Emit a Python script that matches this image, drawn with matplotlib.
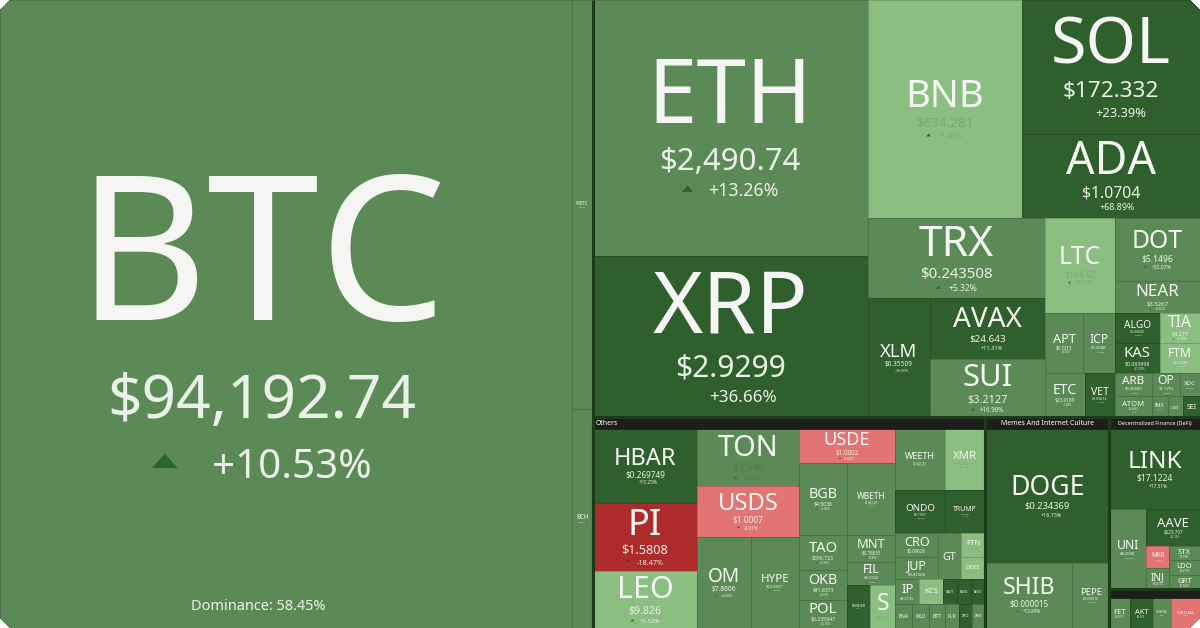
import matplotlib
matplotlib.use("Agg")
import numpy as np
import matplotlib.pyplot as plt
from matplotlib.patches import Rectangle, Polygon
from matplotlib.colors import to_rgb

plt.rcParams['font.family'] = ['Noto Sans', 'DejaVu Sans']

# ---------------- data ----------------
# relative market-cap weights (estimated from tile areas)
symbols = ["BTC", "WBTC", "BCH",
           "ETH", "XRP", "BNB", "SOL", "ADA", "TRX", "XLM", "AVAX", "SUI",
           "LTC", "APT", "ICP", "ETC", "VET", "DOT", "NEAR", "ALGO", "KAS",
           "TIA", "FTM", "ARB", "OP", "XDC", "ATOM", "IMX", "QNT", "SEI",
           "HBAR", "PI", "LEO", "TON", "USDS", "OM", "HYPE", "USDE", "BGB",
           "WBETH", "TAO", "OKB", "POL", "MNT", "FIL", "RENDER", "S",
           "WEETH", "XMR", "ONDO", "TRUMP", "CRO", "JUP", "GT", "FTN", "DEXE",
           "IP", "KCS", "XAUT", "PAXG", "NEXO", "ENA", "WLD", "BTT", "FLR",
           "ZRO", "SAND",
           "DOGE", "SHIB", "PEPE",
           "LINK", "UNI", "AAVE", "MKR", "INJ", "STX", "LDO", "GRT",
           "FET", "AKT", "THETA", "VIRTUAL"]
weights = [359.2, 8.6, 4.6,
           70.4, 44.3, 33.6, 23.9, 15.0, 14.2, 7.4, 7.0, 6.7,
           6.65, 2.28, 1.92, 1.76, 1.32, 5.36, 2.72, 1.35, 1.35,
           1.2, 1.2, 0.85, 0.64, 0.46, 0.78, 0.34, 0.32, 0.36,
           7.77, 7.14, 5.99, 5.81, 5.2, 4.91, 4.37, 3.3, 3.53,
           3.46, 1.72, 1.47, 1.37, 1.30, 1.10, 0.99, 1.08,
           3.05, 2.44, 2.15, 1.72, 1.03, 0.99, 1.08, 0.58, 0.55,
           0.6, 0.58, 0.35, 0.35, 0.35, 0.41, 0.41, 0.37, 0.35,
           0.3, 0.32,
           16.75, 5.72, 2.41,
           7.3, 2.99, 1.98, 0.51, 0.48, 0.45, 0.45, 0.45,
           0.62, 0.68, 0.56, 0.86]
prices = ["$94,192.74", "$94,174.3", "$358.21",
          "$2,490.74", "$2.9299", "$634.281", "$172.332", "$1.0704", "$0.243508",
          "$0.35509", "$24.643", "$3.2127",
          "$104.52", "$6.7313", "$7.3098", "$23.0189", "$0.03612", "$5.1496",
          "$3.5267", "$0.29625", "$0.093998",
          "$4.277", "$0.7335", "$0.45589", "$1.1752", "$0.0934", "$6.4461",
          "$0.9571", "", "",
          "$0.269749", "$1.5808", "$9.826", "$3.546", "$1.0007", "$7.8606",
          "$20.8097", "$1.0002", "$4.5038",
          "$2,647.29", "$356.723", "$41.8373", "$0.235947", "$0.78635", "$3.3742",
          "$4.1336", "$0.5521",
          "$2,621.81", "$229.597", "$1.1959", "$15.182", "$0.09629", "$0.81504",
          "", "$3.4518", "$17.207",
          "$4.2135", "$21.473", "", "", "", "", "", "", "",
          "", "",
          "$0.234369", "$0.000015", "$0.000010",
          "$17.1224", "$8.2598", "$223.707", "$1,512.6", "$14.12", "$0.9987",
          "$1.2714", "$0.1472",
          "$0.6911", "$2.331", "$1.02", "$1.4425"]
changes = [10.53, None, None,
           13.26, 36.66, 1.45, 23.39, 68.89, 5.32, 16.80, 11.31, 16.90,
           4.10, 8.20, 9.10, 7.40, 14.20, 32.07, 9.50, 15.00, 17.20,
           2.10, 2.60, 8.40, 9.00, None, 7.70, None, None, None,
           15.25, -18.47, 0.52, 2.30, -0.01, 3.06, 8.60, -0.02, 5.90,
           13.10, 9.30, 6.10, 12.00, 8.80, 9.40, None, None,
           13.30, 3.00, 20.90, 11.00, None, None, None, None, None,
           None, None, None, None, None, None, None, None, None,
           None, None,
           16.15, 13.89, 20.50,
           17.51, 14.20, 22.10, -3.10, None, None, None, None,
           None, None, None, None]

group_titles = ["Others", "Memes And Internet Culture", "Decentralized Finance (DeFi)"]
btc_dominance = "Dominance: 58.45%"

# ---------------- styles ----------------
TONES = {'D': '#2f5f2c', 'M': '#5c8a56', 'L': '#8bbf82', 'R': '#ad2b2b', 'P': '#e27474'}
tone_of = {
    'BTC': 'M', 'WBTC': 'M', 'BCH': 'M', 'ETH': 'M', 'XRP': 'D', 'BNB': 'L', 'SOL': 'D',
    'ADA': 'D', 'TRX': 'M', 'XLM': 'D', 'AVAX': 'D', 'SUI': 'M', 'LTC': 'L', 'APT': 'M',
    'ICP': 'M', 'ETC': 'M', 'VET': 'D', 'DOT': 'M', 'NEAR': 'M', 'ALGO': 'D', 'KAS': 'D',
    'TIA': 'L', 'FTM': 'L', 'ARB': 'M', 'OP': 'M', 'XDC': 'M', 'ATOM': 'M', 'IMX': 'M',
    'QNT': 'M', 'SEI': 'D', 'HBAR': 'D', 'PI': 'R', 'LEO': 'L', 'TON': 'M', 'USDS': 'P',
    'OM': 'M', 'HYPE': 'M', 'USDE': 'P', 'BGB': 'M', 'WBETH': 'M', 'TAO': 'M', 'OKB': 'M',
    'POL': 'M', 'MNT': 'M', 'FIL': 'M', 'RENDER': 'D', 'S': 'L', 'WEETH': 'M', 'XMR': 'L',
    'ONDO': 'D', 'TRUMP': 'D', 'CRO': 'M', 'JUP': 'M', 'GT': 'M', 'FTN': 'L', 'DEXE': 'L',
    'IP': 'M', 'KCS': 'L', 'XAUT': 'D', 'PAXG': 'D', 'NEXO': 'D', 'ENA': 'M', 'WLD': 'M',
    'BTT': 'M', 'FLR': 'M', 'ZRO': 'D', 'SAND': 'M', 'DOGE': 'D', 'SHIB': 'M', 'PEPE': 'M',
    'LINK': 'D', 'UNI': 'M', 'AAVE': 'D', 'MKR': 'P', 'INJ': 'M', 'STX': 'M', 'LDO': 'M',
    'GRT': 'M', 'FET': 'M', 'AKT': 'D', 'THETA': 'M', 'VIRTUAL': 'P'}
faint = {'BNB', 'LTC', 'TON', 'XMR', 'KCS', 'FTN', 'DEXE', 'S'}
label_shift = {'BTC': (-24, 13)}
label_scale = {'BTC': 1.08, 'BNB': 0.85, 'SOL': 1.12}

wmap = dict(zip(symbols, weights))
pmap = dict(zip(symbols, prices))
cmap_ = dict(zip(symbols, changes))


def R(*kids, **kw):
    return dict(dir='row', kids=list(kids), **kw)


def C(*kids, **kw):
    return dict(dir='col', kids=list(kids), **kw)


tree = C(
    C('BTC', R('WBTC', 'BCH'), group=True),
    R(
        C(R('ETH', 'XRP'),
          R(C('BNB', R('SOL', 'ADA')),
            C(R('TRX', C('XLM', R('AVAX', 'SUI'))),
              R('LTC', C('APT', 'ICP'), C('ETC', 'VET')),
              R('DOT', 'NEAR', C(R('ALGO', 'KAS'), R('TIA', 'FTM')),
                R(C('ARB', 'OP', 'XDC'), C('ATOM', 'IMX', 'QNT', 'SEI')))))),
        C(
            C(R('HBAR', 'PI', 'LEO'),
              R('TON', 'USDS', C('OM', 'HYPE')),
              R('USDE', C('BGB', 'WBETH'),
                C(R('TAO', 'OKB', 'POL'), R('MNT', 'FIL', C('RENDER', 'S')))),
              R(C('WEETH', 'XMR'), C('ONDO', 'TRUMP'),
                C(R('CRO', 'JUP'), 'GT', R('FTN', 'DEXE')),
                R(C('IP', 'KCS', 'XAUT', 'PAXG', 'NEXO'),
                  C('ENA', 'WLD', 'BTT', 'FLR', 'ZRO', 'SAND'))),
              hdr=12, title=group_titles[0], talign='left', group=True),
            C(R('DOGE', C('SHIB', 'PEPE')),
              hdr=12, title=group_titles[1], talign='center', group=True),
            R('LINK', C('UNI', R('AAVE', C(R('MKR', 'INJ'), R('STX', 'LDO', 'GRT')))),
              C('FET', 'AKT', 'THETA', 'VIRTUAL', hdr=9, group=True),
              hdr=12, title=group_titles[2], talign='center', group=True),
        ),
    ),
)


def weight(n):
    if isinstance(n, str):
        return wmap[n]
    return sum(weight(k) for k in n['kids'])


def lost(n):
    if isinstance(n, str):
        return 0.0
    own = n.get('hdr', 0)
    ls = [lost(k) for k in n['kids']]
    return own + (sum(ls) if n['dir'] == 'row' else min(ls))


leaves, headers, groups = [], [], []


def layout(n, x, y, w, h):
    if isinstance(n, str):
        leaves.append((n, x, y, w, h))
        return
    if n.get('group'):
        groups.append((x, y, w, h))
    if n.get('hdr'):
        headers.append((x, y, w, n['hdr'], n.get('title', ''), n.get('talign', 'center')))
        y += n['hdr']
        h -= n['hdr']
    kids = n['kids']
    ws = [weight(k) for k in kids]
    ls = [lost(k) for k in kids]
    if n['dir'] == 'row':
        avail = h - sum(ls)
        tot = sum(ws)
        cy = y
        for k, wt, lh in zip(kids, ws, ls):
            hk = lh + avail * wt / tot
            layout(k, x, cy, w, hk)
            cy += hk
    else:
        rs = [wt / max(h - lh, 1.0) for wt, lh in zip(ws, ls)]
        tot = sum(rs)
        cx = x
        for k, r in zip(kids, rs):
            wk = w * r / tot
            layout(k, cx, y, wk, h)
            cx += wk


W_PX, H_PX = 1200, 628
DPI = 100
fig = plt.figure(figsize=(W_PX / DPI, H_PX / DPI), dpi=DPI)
fig.patch.set_facecolor('white')
ax = fig.add_axes([0, 0, 1, 1])
ax.set_xlim(0, W_PX)
ax.set_ylim(H_PX, 0)
ax.axis('off')
renderer = fig.canvas.get_renderer()

layout(tree, 0, 0, W_PX, H_PX)

PX_PER_PT = DPI / 72.0
CAP = 0.714
GAP1 = 0.38   # symbol baseline -> top of price digits (in symbol cap heights)
GAP2 = 0.22   # price baseline -> top of change text


def text_w(s, fs):
    t = ax.text(0, 0, s, fontsize=fs)
    bb = t.get_window_extent(renderer)
    t.remove()
    return bb.width


def darker(c, f):
    r, g, b = to_rgb(c)
    return (r * f, g * f, b * f)


for sym, x, y, w, h in leaves:
    bg = TONES[tone_of[sym]]
    ax.add_patch(Rectangle((x, y), w, h, facecolor=bg, edgecolor=darker(bg, 0.82), lw=0.7))

for sym, x, y, w, h in leaves:
    bg = TONES[tone_of[sym]]
    dx, dy = label_shift.get(sym, (0, 0))
    cx, cy = x + w / 2 + dx, y + h / 2 + dy
    sw = text_w(sym, 100) / 100.0
    fs = min(0.6 * w / sw, 0.38 * h / (CAP * PX_PER_PT)) * label_scale.get(sym, 1.0)
    if fs < 2.0:
        continue
    S = fs * CAP * PX_PER_PT
    price, chg = pmap[sym], cmap_[sym]
    sec = darker(bg, 0.88) if sym in faint else '#eaf1e8'
    pfs = 0.35 * fs
    if sym == 'BTC':
        pfs = 0.3 * fs
    if price:
        pw = text_w(price, 100) / 100.0
        pfs = min(pfs, 0.6 * w / pw)
    P = pfs * CAP * PX_PER_PT
    cfs = 0.2 * fs
    Cc = cfs * CAP * PX_PER_PT
    block = S + ((GAP1 * S + P) if price else 0) + ((GAP2 * S + Cc) if chg is not None else 0)
    top = cy - block / 2
    base = top + S
    ax.text(cx, base, sym, fontsize=fs, color='#f5f6f3', ha='center', va='baseline')
    if price:
        base += GAP1 * S + P
        ax.text(cx, base, price, fontsize=pfs, color=sec, ha='center', va='baseline')
    if chg is not None:
        base += GAP2 * S + Cc
        cs = f"{chg:+.2f}%"
        cw = text_w(cs, cfs)
        tw, th, gap = 0.9 * Cc, 0.5 * Cc, 1.2 * Cc
        x0 = cx - (tw + gap + cw) / 2
        if chg >= 0:
            yb = base - 0.35 * Cc
            tri = [(x0, yb), (x0 + tw, yb), (x0 + tw / 2, yb - th)]
            tc = '#2b6527'
        else:
            yt = base - 0.9 * Cc
            tri = [(x0, yt), (x0 + tw, yt), (x0 + tw / 2, yt + th)]
            tc = '#8f1d1d'
        ax.add_patch(Polygon(tri, closed=True, facecolor=tc, edgecolor='none'))
        ax.text(x0 + tw + gap, base, cs, fontsize=cfs, color=sec, ha='left', va='baseline')
    if sym == 'BTC':
        ax.text(cx - 4, y + h - 21, btc_dominance, fontsize=10.5, color='#eaf1e8',
                ha='center', va='center')

# group borders: only interior edges (the outer frame of the picture stays clean)
GC = '#1d3a1b'
for x, y, w, h in groups:
    segs = []
    if x > 0.5:
        segs.append(([x, x], [y, y + h]))
    if x + w < W_PX - 0.5:
        segs.append(([x + w, x + w], [y, y + h]))
    if y > 0.5:
        segs.append(([x, x + w], [y, y]))
    if y + h < H_PX - 0.5:
        segs.append(([x, x + w], [y + h, y + h]))
    for xs, ys in segs:
        ax.plot(xs, ys, color=GC, lw=2.2, solid_capstyle='butt')

for x, y, w, hh, title, al in headers:
    ax.add_patch(Rectangle((x, y), w, hh, facecolor='#1c1e1c', edgecolor='#1c1e1c', lw=0.5))
    if title:
        tx = x + 3 if al == 'left' else x + w / 2
        fsz = min(5.0, 0.8 * w / (text_w(title, 100) / 100.0))
        ax.text(tx, y + hh / 2 + 0.5, title, fontsize=fsz, color='white', ha=al, va='center')

# rounded corners of the card
rad = 9
t = np.linspace(0, np.pi / 2, 20)
for (cx0, cy0, sx, sy) in [(0, 0, 1, 1), (W_PX, 0, -1, 1), (0, H_PX, 1, -1), (W_PX, H_PX, -1, -1)]:
    arc = [(cx0 + sx * (rad - rad * np.cos(a)), cy0 + sy * (rad - rad * np.sin(a))) for a in t]
    pts = [(cx0, cy0)] + [(cx0, cy0 + sy * rad)] + arc[::-1] + [(cx0 + sx * rad, cy0)]
    ax.add_patch(Polygon(pts, closed=True, facecolor='white', edgecolor='none', zorder=10))

fig.savefig('out.png', dpi=DPI)
